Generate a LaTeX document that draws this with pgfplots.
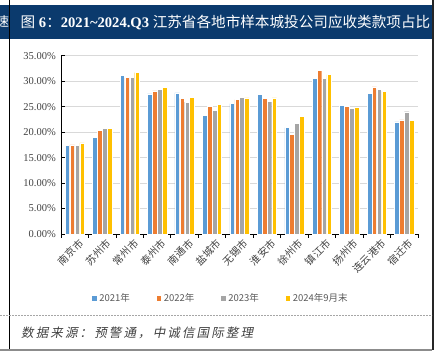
\documentclass[border=0pt]{standalone}
\usepackage{fontspec}
\usepackage{pgfplots}
\pgfplotsset{compat=1.18}
\setmainfont{Liberation Serif}
\newfontfamily\cjk{Noto Sans CJK SC}
\newfontfamily\cjksl{Noto Sans CJK SC}[FakeSlant=0.2, LetterSpace=17]
\definecolor{c1}{HTML}{5B9BD5}
\definecolor{c2}{HTML}{ED7D31}
\definecolor{c3}{HTML}{A5A5A5}
\definecolor{c4}{HTML}{FFC000}
\definecolor{hdr}{HTML}{0B3A6D}
\definecolor{gridc}{HTML}{D9D9D9}
\definecolor{labc}{HTML}{404040}
\definecolor{legc}{HTML}{595959}
\pgfplotsset{legimg/.style={legend image code/.code={\fill[##1] (0pt,-2.8pt) rectangle (5.5pt,2.8pt);}}}
\begin{document}
\begin{tikzpicture}[x=1pt,y=1pt]
\path[use as bounding box] (0,0) rectangle (436,362);
% header bar
\fill[hdr] (0,323) rectangle (431.7,357.3);
\begin{scope}
\clip (0,323) rectangle (8.6,357.3);
\node[white,font=\cjk\fontsize{13}{13}\selectfont] at (2.5,340) {速};
\end{scope}
\node[anchor=west, white, inner sep=0pt] at (20.5,340) {\fontsize{14.6}{14.6}\selectfont{\cjk 图} \textbf{6}{\cjk ：}\textbf{2021\textasciitilde 2024.Q3} {\cjk 江苏省各地市样本城投公司应收类款项占比}};
% frame lines
\draw[black, line width=0.9pt] (9.3,12) -- (9.3,362);
\draw[black!85, line width=1.7pt] (432.8,12) -- (432.8,362);
\draw[gray!90, line width=1.2pt] (0,12) -- (432,12);
\draw[gray!70, line width=1pt, dash pattern=on 2pt off 1pt] (0,47) -- (432,47);
\node[anchor=west, text=labc, inner sep=0pt, font=\cjksl\fontsize{12.5}{12.5}\selectfont] at (21,29.5) {数据来源：预警通，中诚信国际整理};
\begin{axis}[
  at={(61pt,128pt)}, anchor=south west,
  scale only axis, width=357pt, height=178.3pt,
  ybar=0.3pt, bar width=4.6pt,
  xmin=-0.5, xmax=12.5, ymin=0, ymax=35,
  enlarge x limits=false, enlarge y limits=false,
  axis x line*=bottom, axis y line*=left,
  axis line style={black, line width=0.9pt},
  xtick={0,...,12},
  xticklabels={南京市,苏州市,常州市,泰州市,南通市,盐城市,无锡市,淮安市,徐州市,镇江市,扬州市,连云港市,宿迁市},
  minor xtick={-0.5,0.5,...,12.5},
  major x tick style={draw=none},
  minor x tick style={black, line width=0.8pt},
  minor tick length=3.5pt,
  xtick align=outside,
  ytick={0,5,...,35},
  ytick align=inside,
  major tick length=4pt,
  y tick style={black, line width=0.8pt},
  ymajorgrids, grid style={gridc, line width=0.9pt},
  /pgf/number format/assume math mode=true,
  yticklabel={\pgfmathprintnumber[fixed,fixed zerofill,precision=2]{\tick}\%},
  yticklabel style={font=\fontsize{10.5}{10.5}\selectfont, text=labc, inner sep=1pt, xshift=-4pt},
  xticklabel style={rotate=45, anchor=north east, font=\cjk\fontsize{10.2}{10.2}\selectfont, text=labc, inner sep=0.5pt, xshift=3pt, yshift=-2pt},
  legend columns=4,
  legend style={draw=none, fill=none, at={(0.447,-0.359)}, anchor=center,
    font=\cjk\fontsize{9.5}{9.5}\selectfont, text=legc,
    /tikz/every even column/.append style={column sep=24pt}},
]
\addplot[fill=c1, draw=white, line width=0.4pt, legimg] coordinates {(0,17.4) (1,19.0) (2,31.15) (3,27.5) (4,27.7) (5,23.3) (6,25.6) (7,27.4) (8,20.9) (9,30.6) (10,25.3) (11,27.6) (12,22.0)};
\addplot[fill=c2, draw=white, line width=0.4pt, legimg] coordinates {(0,17.5) (1,20.4) (2,30.7) (3,28.1) (4,26.6) (5,25.1) (6,26.4) (7,26.6) (8,19.6) (9,32.1) (10,25.1) (11,28.9) (12,22.4)};
\addplot[fill=c3, draw=white, line width=0.4pt, legimg] coordinates {(0,17.4) (1,20.7) (2,30.7) (3,28.4) (4,25.9) (5,24.3) (6,26.8) (7,26.1) (8,21.7) (9,30.6) (10,24.7) (11,28.4) (12,24.0)};
\addplot[fill=c4, draw=white, line width=0.4pt, legimg] coordinates {(0,17.9) (1,20.8) (2,31.7) (3,28.8) (4,26.8) (5,25.5) (6,26.7) (7,26.7) (8,23.1) (9,31.3) (10,24.9) (11,28.0) (12,22.3)};
\legend{2021年,2022年,2023年,2024年9月末}
\end{axis}
\end{tikzpicture}
\end{document}
